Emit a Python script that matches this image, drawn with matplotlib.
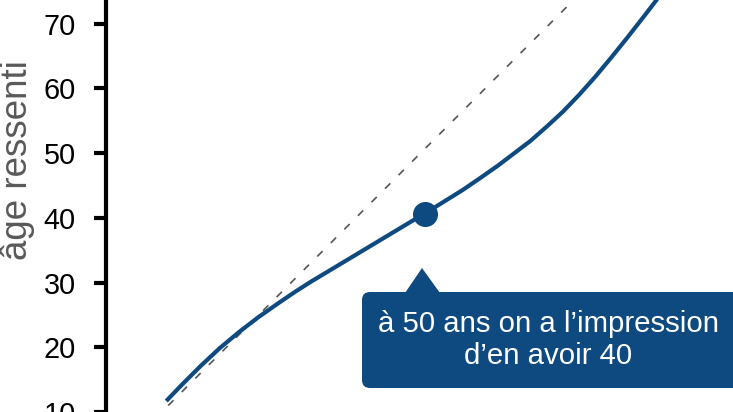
import matplotlib
matplotlib.use("Agg")
import matplotlib.pyplot as plt
from matplotlib.patches import FancyBboxPatch, Polygon
from matplotlib.transforms import IdentityTransform

# data
age_reel = [10.7, 13, 16, 19, 22, 25, 28, 30.5, 33, 38, 43, 48, 52, 56.5, 59, 62,
            64.5, 67, 69.5, 72, 74.5, 77, 79.5, 82, 84.5, 86.5, 87.6]
age_ressenti = [11.7, 14.1, 17.1, 19.9, 22.4, 24.7, 26.8, 28.5, 30.1, 33.1, 36.1,
                39.1, 41.5, 44.3, 46.0, 48.1, 50.0, 51.9, 54.1, 56.4, 59.0, 61.8,
                64.8, 67.9, 71.1, 73.7, 75.2]
diag_x = [11, 76]
diag_y = [11, 76]
point_x = [50.7]
point_y = [40.6]
yticks = [20, 30, 40, 50, 60, 70, 10]
ylabel = "âge ressenti"
callout = "à 50 ans on a l’impression\nd’en avoir 40"

BLUE = "#0e4a80"
plt.rcParams['font.family'] = ['Liberation Sans', 'DejaVu Sans']

W, H = 733, 412
fig = plt.figure(figsize=(W / 100, H / 100), dpi=100)
ax = fig.add_axes([0, 0, 1, 1])
ax.set_xlim(-15.0, 98.3)
ax.set_ylim(10.61, 73.67)

ax.plot(diag_x, diag_y, color="#555555", lw=1.2, ls=(0, (4.5, 7.0)), zorder=2)
ax.plot(age_reel, age_ressenti, color=BLUE, lw=3.0, solid_capstyle='butt',
        solid_joinstyle='round', zorder=3)
ax.plot(point_x, point_y, 'o', color=BLUE, markersize=17, zorder=4)

for s in ['top', 'right', 'bottom']:
    ax.spines[s].set_visible(False)
ax.spines['left'].set_position(('data', 1.36))
ax.spines['left'].set_linewidth(3.0)
ax.spines['left'].set_color('black')
ax.set_xticks([])
ax.set_yticks(yticks)
ax.set_yticklabels([str(v) for v in yticks])
ax.tick_params(axis='y', direction='out', length=8.5, width=3.0, pad=13,
               labelsize=20.8, colors='black')
ax.patch.set_alpha(0)

fig.text(35 / W, 1 - 160.5 / H, ylabel, rotation=90, ha='right', va='center',
         fontsize=26.5, color='#595959')

# callout box (pixel coordinates)
box = FancyBboxPatch((362, H - 388), 390, 96,
                     boxstyle="round,pad=0,rounding_size=8",
                     transform=IdentityTransform(), facecolor=BLUE,
                     edgecolor='none', zorder=5)
fig.patches.append(box)
tri = Polygon([(405, H - 293), (440, H - 293), (422, H - 268)], closed=True,
              transform=IdentityTransform(), facecolor=BLUE, edgecolor='none', zorder=5)
fig.patches.append(tri)
fig.text(548 / W, 72 / H, callout, ha='center', va='center', fontsize=21.2,
         color='white', linespacing=1.15, multialignment='center', zorder=6)

fig.savefig("out.png", dpi=100)
